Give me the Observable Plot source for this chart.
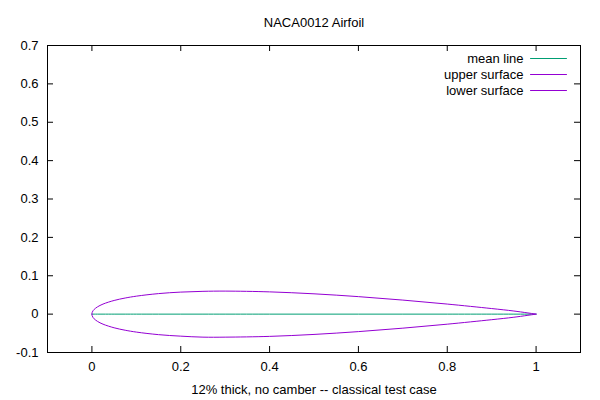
<!DOCTYPE html>
<html>
<head>
<meta charset="utf-8">
<script src="https://cdn.jsdelivr.net/npm/d3@7"></script>
<script src="https://cdn.jsdelivr.net/npm/@observablehq/plot@0.6"></script>
<style>
  body { margin: 0; background: #fff; }
  #chart svg { display: block; background: #fff; }
</style>
</head>
<body>
<div id="chart"></div>
<script>
// ---- data ----
const titleText = "NACA0012 Airfoil";
const xLabelText = "12% thick, no camber -- classical test case";
const seriesNames = ["mean line", "upper surface", "lower surface"];
const seriesColors = ["#009e73", "#9400d3", "#9400d3"];

const stationX = [0, 0.0005, 0.0025, 0.005, 0.0125, 0.025, 0.05, 0.075, 0.1, 0.15, 0.2, 0.25, 0.3, 0.4, 0.5, 0.6, 0.7, 0.8, 0.9, 0.95, 1.0];
const meanY    = [0, 0, 0, 0, 0, 0, 0, 0, 0, 0, 0, 0, 0, 0, 0, 0, 0, 0, 0, 0, 0];
const upperY   = [0, 0.0040, 0.0087, 0.0122, 0.0189, 0.0262, 0.0356, 0.0420, 0.0468, 0.0535, 0.0574, 0.0594, 0.0600, 0.0580, 0.0529, 0.0456, 0.0366, 0.0262, 0.0145, 0.0081, 0];
const lowerY   = [0, -0.0040, -0.0087, -0.0122, -0.0189, -0.0262, -0.0356, -0.0420, -0.0468, -0.0535, -0.0574, -0.0600, -0.0600, -0.0580, -0.0529, -0.0456, -0.0366, -0.0262, -0.0145, -0.0081, 0];

const xTicks = [0, 0.2, 0.4, 0.6, 0.8, 1];
const yTicks = [-0.1, 0, 0.1, 0.2, 0.3, 0.4, 0.5, 0.6, 0.7];

// ---- build tables ----
const seriesY = [meanY, upperY, lowerY];
const tables = seriesY.map((ys) => stationX.map((x, i) => ({x, y: ys[i]})));

const W = 600, H = 400;
const mL = 47, mR = 20, mT = 45, mB = 48;
const plotW = W - mL - mR, plotH = H - mT - mB;
const tickLen = 6;
const lineShape = { draw(context, l) { context.moveTo(0, 0); context.lineTo(0, -l); } };

const legendMarks = [];
seriesNames.forEach((name, i) => {
  const dy = 13 + 16 * i;
  legendMarks.push(Plot.text([name], {frameAnchor: "top-right", lineAnchor: "middle", text: (d) => d, dx: -57, dy, textAnchor: "end", fill: "black"}));
  legendMarks.push(Plot.vector([name], {frameAnchor: "top-right", dx: -50, dy, length: 36, rotate: 90, anchor: "start", shape: lineShape, stroke: seriesColors[i], strokeWidth: 1}));
});

const chart = Plot.plot({
  width: W, height: H,
  marginLeft: mL, marginRight: mR, marginTop: mT, marginBottom: mB,
  style: {fontFamily: "'Liberation Sans', Arial, sans-serif", fontSize: "13px", color: "black", background: "white"},
  x: {domain: [-0.1, 1.1]},
  y: {domain: [-0.1, 0.7]},
  marks: [
    // lines
    ...tables.map((t, i) => Plot.line(t, {x: "x", y: "y", stroke: seriesColors[i], strokeWidth: 1, curve: "catmull-rom"})),
    // inward ticks on all four sides
    Plot.tickX(xTicks, {x: (d) => d, insetTop: plotH - tickLen, stroke: "black"}),
    Plot.tickX(xTicks, {x: (d) => d, insetBottom: plotH - tickLen, stroke: "black"}),
    Plot.tickY(yTicks, {y: (d) => d, insetRight: plotW - tickLen, stroke: "black"}),
    Plot.tickY(yTicks, {y: (d) => d, insetLeft: plotW - tickLen, stroke: "black"}),
    // tick labels
    Plot.axisX(xTicks, {anchor: "bottom", tickSize: 0, tickPadding: 9, label: null, tickFormat: (d) => String(d), fontSize: 13}),
    Plot.axisY(yTicks, {anchor: "left", tickSize: 0, tickPadding: 9, label: null, tickFormat: (d) => String(d), fontSize: 13}),
    Plot.frame({stroke: "black", strokeWidth: 1}),
    // title and x label
    Plot.text([titleText], {frameAnchor: "top", lineAnchor: "middle", text: (d) => d, dy: -23, fill: "black"}),
    Plot.text([xLabelText], {frameAnchor: "bottom", lineAnchor: "middle", text: (d) => d, dy: 37, fill: "black"}),
    ...legendMarks
  ]
});
document.getElementById("chart").appendChild(chart);
</script>
</body>
</html>
